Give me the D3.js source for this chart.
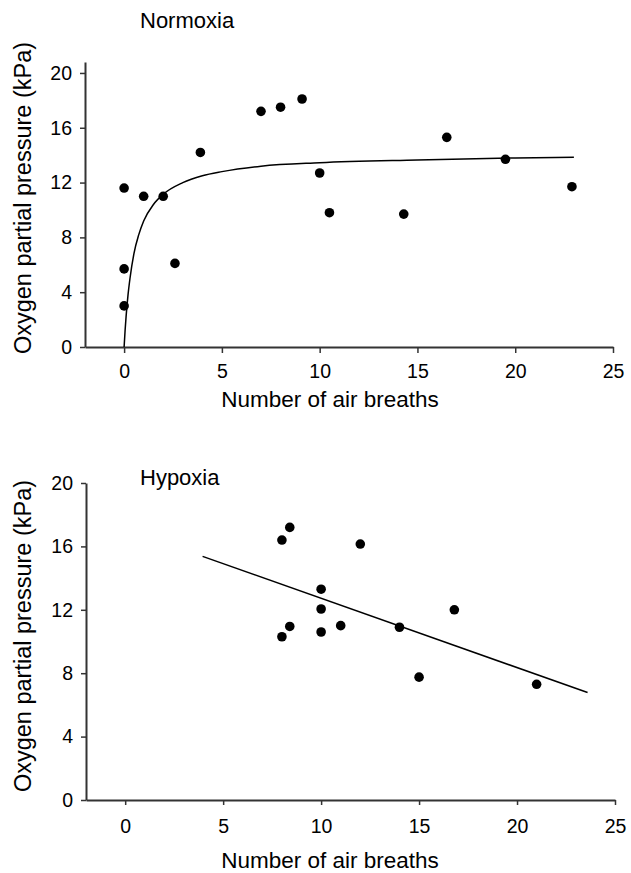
<!DOCTYPE html>
<html>
<head>
<meta charset="utf-8">
<script src="https://cdn.jsdelivr.net/npm/d3@7"></script>
<style>
  body { margin: 0; background: #fff; }
  text { font-family: Arial, "Liberation Sans", sans-serif; fill: #000; }
</style>
</head>
<body>
<div id="chart"></div>
<script>
// Normoxia data
const normBreaths = [0, 0, 0, 1, 2, 2.6, 3.9, 7, 8, 9.1, 10, 10.5, 14.3, 16.5, 19.5, 22.9];
const normPO2     = [11.6, 5.7, 3.0, 11.0, 11.0, 6.1, 14.2, 17.2, 17.5, 18.1, 12.7, 9.8, 9.7, 15.3, 13.7, 11.7];

// fitted curve
const normFitX = [0, 0.05, 0.1, 0.2, 0.3, 0.5, 0.75, 1, 1.5, 2, 3, 4, 5, 7, 10, 15, 20, 23];
const normFitY = [0, 1.2, 2.2, 3.8, 5.0, 6.8, 8.2, 9.2, 10.4, 11.15, 12.0, 12.5, 12.8, 13.2, 13.45, 13.65, 13.8, 13.85];

// Hypoxia data
const hypoBreaths = [8, 8.4, 8, 8.4, 10, 10, 10, 11, 12, 14, 16.8, 15, 21];
const hypoPO2     = [16.4, 17.2, 10.3, 10.95, 13.3, 12.05, 10.6, 11.0, 16.15, 10.9, 12.0, 7.75, 7.3];

// regression line end points
const hypoFitX = [3.95, 23.6];
const hypoFitY = [15.37, 6.78];

const xTicks = [0, 5, 10, 15, 20, 25];
const yTicks = [0, 4, 8, 12, 16, 20];

const svg = d3.select("#chart").append("svg")
    .attr("width", 631)
    .attr("height", 873);

function drawPanel(cfg) {
    const x = d3.scaleLinear().domain([-2, 25]).range(cfg.xRange);
    const y = d3.scaleLinear().domain(cfg.yDomain).range(cfg.yRange);

    const xAxis = svg.append("g")
        .attr("transform", `translate(0, ${cfg.yRange[0]})`)
        .call(d3.axisBottom(x).tickValues(xTicks).tickSize(cfg.xTickSize)
            .tickPadding(cfg.xTickPad).tickSizeOuter(0));

    const yAxis = svg.append("g")
        .attr("transform", `translate(${cfg.xRange[0]}, 0)`)
        .call(d3.axisLeft(y).tickValues(yTicks).tickSize(5)
            .tickPadding(8).tickSizeOuter(0));

    [xAxis, yAxis].forEach(a => {
        a.select(".domain").attr("stroke", "#333").attr("stroke-width", 2);
        a.selectAll(".tick line").attr("stroke", "#333").attr("stroke-width", 1.5);
        a.selectAll(".tick text").style("font-size", "19.5px")
            .style("font-family", "Arial, 'Liberation Sans', sans-serif").attr("fill", "#000");
    });

    // fit line / curve
    const fit = cfg.fitX.map((d, i) => [d, cfg.fitY[i]]);
    svg.append("path")
        .datum(fit)
        .attr("fill", "none")
        .attr("stroke", "#000")
        .attr("stroke-width", 1.5)
        .attr("d", d3.line().x(d => x(d[0])).y(d => y(d[1])).curve(d3.curveMonotoneX));

    // points
    const pts = cfg.xs.map((d, i) => [d, cfg.ys[i]]);
    svg.append("g").selectAll("circle")
        .data(pts)
        .enter().append("circle")
        .attr("cx", d => x(d[0]))
        .attr("cy", d => y(d[1]))
        .attr("r", 4.8)
        .attr("fill", "#000");

    // titles
    svg.append("text")
        .attr("x", 140)
        .attr("y", cfg.titleY)
        .style("font-size", "22px")
        .text(cfg.title);

    svg.append("text")
        .attr("x", 330)
        .attr("y", cfg.xLabelY)
        .attr("text-anchor", "middle")
        .style("font-size", "22.5px")
        .text("Number of air breaths");

    svg.append("text")
        .attr("transform", `translate(31, ${cfg.yLabelMid}) rotate(-90)`)
        .attr("text-anchor", "middle")
        .style("font-size", "23.5px")
        .text("Oxygen partial pressure (kPa)");
}

drawPanel({
    title: "Normoxia", titleY: 28,
    xRange: [85, 613], yDomain: [0, 20.8], yRange: [347, 62],
    xTickSize: 6, xTickPad: 11, xLabelY: 407, yLabelMid: 198,
    xs: normBreaths, ys: normPO2, fitX: normFitX, fitY: normFitY
});

drawPanel({
    title: "Hypoxia", titleY: 485,
    xRange: [86, 615], yDomain: [0, 20], yRange: [800, 483],
    xTickSize: 5, xTickPad: 14, xLabelY: 868, yLabelMid: 636,
    xs: hypoBreaths, ys: hypoPO2, fitX: hypoFitX, fitY: hypoFitY
});
</script>
</body>
</html>
